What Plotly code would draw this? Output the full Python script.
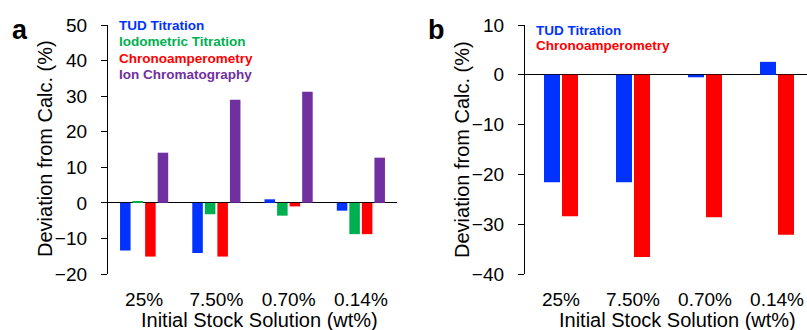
import plotly.graph_objects as go

categories = ["25%", "7.50%", "0.70%", "0.14%"]
a_tud = [-13.4, -14.1, 1.0, -2.2]
a_iodo = [0.4, -3.2, -3.6, -8.8]
a_chrono = [-15.1, -15.1, -1.0, -8.8]
a_ion = [14.1, 29.0, 31.2, 12.7]
b_tud = [-21.6, -21.6, -0.5, 2.6]
b_chrono = [-28.4, -36.6, -28.6, -32.1]

BLUE = "#0033FF"
GREEN = "#00B050"
RED = "#FF0000"
PURPLE = "#7030A0"
FONT = "Liberation Sans, Arial, sans-serif"

W, H = 807, 330
xs = list(range(len(categories)))

fig = go.Figure()

# panel a
G_a = 50 / 72
s_a = G_a / 4
w_a = 10.5 / 72
for i, (vals, col, name) in enumerate([
    (a_tud, BLUE, "TUD Titration"),
    (a_iodo, GREEN, "Iodometric Titration"),
    (a_chrono, RED, "Chronoamperometry"),
    (a_ion, PURPLE, "Ion Chromatography"),
]):
    fig.add_trace(go.Bar(x=xs, y=vals, name=name, marker_color=col,
                         marker_line_width=0, width=w_a,
                         offset=-G_a / 2 + i * s_a + (s_a - w_a) / 2,
                         xaxis="x", yaxis="y", showlegend=False))

# panel b
G_b = 36 / 72
s_b = G_b / 2
w_b = 16 / 72
for i, (vals, col, name) in enumerate([
    (b_tud, BLUE, "TUD Titration"),
    (b_chrono, RED, "Chronoamperometry"),
]):
    fig.add_trace(go.Bar(x=xs, y=vals, name=name, marker_color=col,
                         marker_line_width=0, width=w_b,
                         offset=-G_b / 2 + i * s_b + (s_b - w_b) / 2,
                         xaxis="x2", yaxis="y2", showlegend=False))

ydom = [(H - 274) / H, (H - 25) / H]
xa_dom = [108 / W, 397 / W]
xb_dom = [525 / W, 1.0]

common_x = dict(tickmode="array", tickvals=xs, ticktext=categories,
                showline=False, ticks="", showgrid=False, zeroline=False,
                tickfont=dict(family=FONT, size=19, color="black"),
                ticklabelstandoff=12, automargin=False)
common_y = dict(showline=True, linecolor="black", linewidth=1.3,
                ticks="outside", ticklen=6, tickwidth=1.3, tickcolor="black",
                dtick=10, showgrid=False, zeroline=True, zerolinecolor="black",
                zerolinewidth=1.3, automargin=False, ticklabelstandoff=10,
                tickfont=dict(family=FONT, size=19, color="black"))

fig.update_layout(
    width=W, height=H,
    margin=dict(l=0, r=0, t=0, b=0),
    plot_bgcolor="white", paper_bgcolor="white",
    barmode="overlay",
    xaxis=dict(domain=xa_dom, range=[-0.5, 3.5], anchor="y", **common_x),
    yaxis=dict(domain=ydom, range=[-20, 50], anchor="x", **common_y),
    xaxis2=dict(domain=xb_dom, range=[-0.5, (807 - 525) / 72 - 0.5], anchor="y2", **common_x),
    yaxis2=dict(domain=ydom, range=[-40, 10], anchor="x2", **common_y),
)

ann = []
def txt(x, y, t, size=20, color="black", bold=False, xanchor="center", yanchor="middle", angle=0):
    ann.append(dict(x=x / W, y=1 - y / H, xref="paper", yref="paper", text=("<b>%s</b>" % t) if bold else t,
                    showarrow=False, xanchor=xanchor, yanchor=yanchor, textangle=angle,
                    font=dict(family=FONT, size=size, color=color)))

# panel labels
txt(20, 30, "a", size=27, bold=True)
txt(436, 30, "b", size=27, bold=True)
# y titles
txt(45, 149, "Deviation from Calc. (%)", angle=-90)
txt(462, 149, "Deviation from Calc. (%)", angle=-90)
# x titles
txt(259, 320, "Initial Stock Solution (wt%)")
txt(677, 320, "Initial Stock Solution (wt%)")
# legends
for y, t, c in [(25.7, "TUD Titration", BLUE), (41.5, "Iodometric Titration", GREEN),
                (58, "Chronoamperometry", RED), (74.7, "Ion Chromatography", PURPLE)]:
    txt(117, y, t, size=13.5, color=c, bold=True, xanchor="left")
for y, t, c in [(30, "TUD Titration", BLUE), (45.7, "Chronoamperometry", RED)]:
    txt(534, y, t, size=13.5, color=c, bold=True, xanchor="left")

fig.update_layout(annotations=ann)
fig.write_html("out.html", config={"displayModeBar": False},
               post_script="document.body.style.margin='0';")
